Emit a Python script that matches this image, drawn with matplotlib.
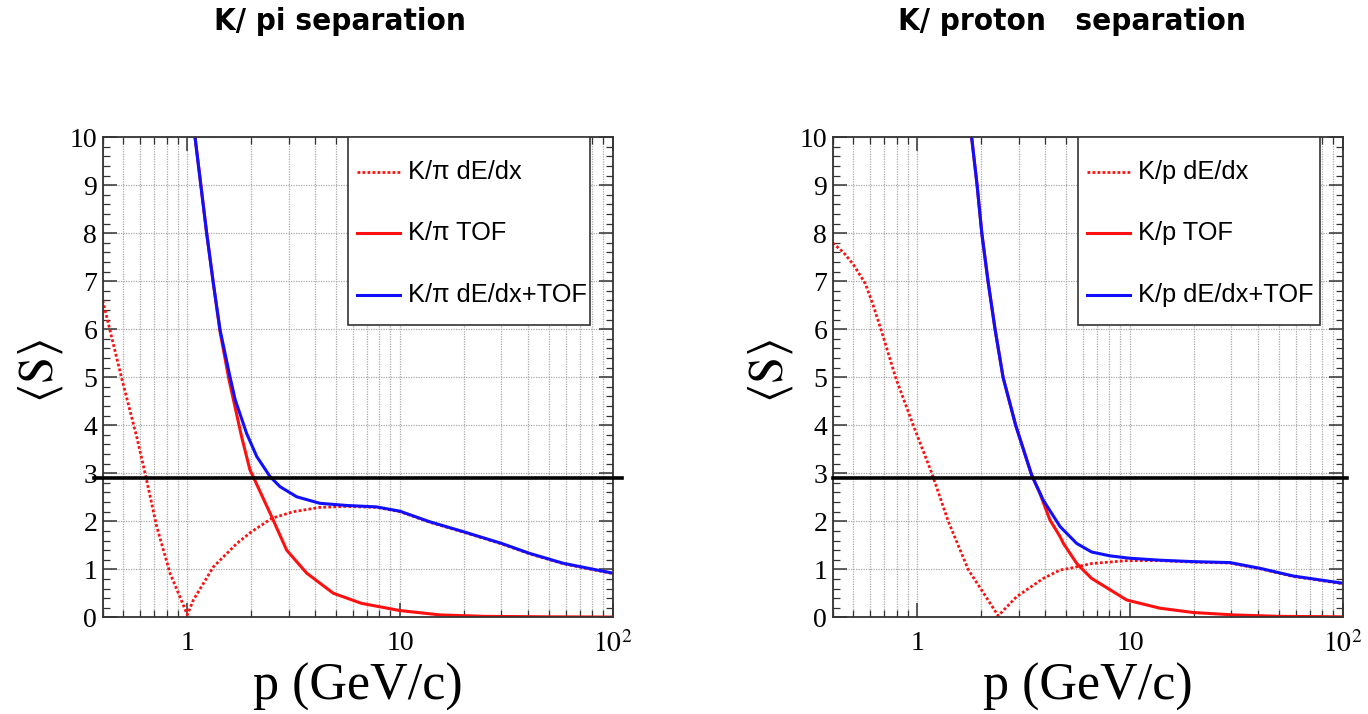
import matplotlib
matplotlib.use('Agg')
import matplotlib.pyplot as plt
import matplotlib.transforms as mtransforms
from matplotlib.patches import Rectangle
from matplotlib.ticker import LogLocator, MultipleLocator, NullFormatter

plt.rcParams['font.family'] = ['Liberation Serif', 'DejaVu Serif']
plt.rcParams['mathtext.fontset'] = 'stix'

# ---- K/pi separation ----
kpi_dedx_p = [0.40, 0.49, 0.578, 0.633, 0.718, 0.829, 0.92, 1.0, 1.067, 1.18, 1.325, 1.71,
              2.0, 2.49, 3.15, 4.2, 5.6, 7.8, 10, 13.8, 20, 30, 40.8, 58.6, 100]
kpi_dedx_s = [6.6, 5.0, 3.76, 3.0, 1.89, 0.92, 0.44, 0.05, 0.36, 0.68, 1.05, 1.54,
              1.78, 2.06, 2.2, 2.29, 2.31, 2.29, 2.20, 1.98, 1.77, 1.53, 1.32, 1.115, 0.91]

kpi_tof_p = [1.05, 1.087, 1.233, 1.325, 1.425, 1.57, 1.80, 1.97, 2.04, 2.49, 2.93, 3.64,
             4.86, 6.6, 10, 15.4, 25, 50, 100]
kpi_tof_s = [10.55, 10.0, 8.0, 6.96, 5.95, 4.95, 3.76, 3.07, 2.93, 2.1, 1.40, 0.92,
             0.5, 0.29, 0.14, 0.05, 0.02, 0.01, 0.005]

kpi_comb_p = [1.05, 1.087, 1.233, 1.325, 1.425, 1.587, 1.68, 1.90, 2.12, 2.45, 2.73, 3.27,
              4.2, 5.6, 7.75, 10, 13.8, 20, 30, 40.8, 58.6, 100]
kpi_comb_s = [10.55, 10.0, 8.0, 6.96, 5.99, 5.01, 4.53, 3.83, 3.35, 2.93, 2.72, 2.51,
              2.375, 2.33, 2.30, 2.21, 1.99, 1.78, 1.54, 1.33, 1.125, 0.92]

# ---- K/proton separation ----
kp_dedx_p = [0.40, 0.45, 0.50, 0.57, 0.62, 0.68, 0.79, 0.957, 1.17, 1.40, 1.74, 2.1, 2.40,
             2.93, 3.91, 4.69, 5.22, 6.6, 9.65, 13.8, 19.8, 29.5, 40.9, 58.6, 100]
kp_dedx_s = [7.8, 7.6, 7.35, 6.95, 6.5, 5.95, 5.0, 4.0, 3.0, 1.99, 0.985, 0.43, 0.03,
             0.43, 0.81, 0.985, 1.02, 1.12, 1.18, 1.18, 1.15, 1.13, 1.01, 0.85, 0.70]

kp_tof_p = [1.75, 1.80, 1.91, 2.01, 2.15, 2.32, 2.53, 2.90, 3.45, 3.77, 4.2, 4.69, 4.86,
            5.61, 5.82, 6.6, 9.65, 13.8, 19.8, 30.6, 50, 100]
kp_tof_s = [10.48, 10.0, 9.0, 8.0, 7.0, 6.0, 5.0, 4.0, 2.96, 2.58, 2.03, 1.68, 1.54,
            1.125, 1.05, 0.81, 0.36, 0.19, 0.10, 0.05, 0.02, 0.01]

kp_comb_p = [1.75, 1.80, 1.91, 2.01, 2.15, 2.32, 2.53, 2.90, 3.45, 3.91, 4.69, 5.61,
             6.6, 8.05, 10, 13.8, 19.8, 29.5, 40.9, 58.6, 100]
kp_comb_s = [10.48, 10.0, 9.0, 8.0, 7.0, 6.0, 5.0, 4.0, 2.96, 2.44, 1.89, 1.54,
             1.36, 1.28, 1.23, 1.19, 1.16, 1.14, 1.02, 0.86, 0.71]

threshold = 2.9

W, H = 1368, 714
fig = plt.figure(figsize=(W / 100, H / 100), dpi=100)

RED = '#ff1010'
BLUE = '#1010ff'
DOTTED = (0, (1, 0.8))


def draw_legend(ax, labels, styles):
    # ROOT-like legend box pinned to the top of the frame
    ax.add_patch(Rectangle((0.48, 0.609), 0.476, 0.391, transform=ax.transAxes,
                           facecolor='white', edgecolor='#333333', lw=1.2, zorder=7))
    for row, (lab, (col, ls, lw)) in enumerate(zip(labels, styles)):
        y = 0.928 - row * 0.128
        ax.plot([0.498, 0.583], [y, y], transform=ax.transAxes, color=col, ls=ls,
                lw=lw, zorder=8, clip_on=False)
        ax.text(0.598, y, lab, transform=ax.transAxes, ha='left', va='center',
                family='Liberation Sans', fontsize=18.3, zorder=8)


def draw_panel(left_px, title, title_px, sp, dedx, tof, comb, line_span):
    ax = fig.add_axes([left_px / W, (H - 617.3) / H, 510 / W, 480 / H])
    ax.set_xscale('log')
    ax.set_xlim(0.4, 100)
    ax.set_ylim(0, 10)

    ax.plot(dedx[0], dedx[1], color=RED, lw=2.0, ls=DOTTED)
    ax.plot(tof[0], tof[1], color=RED, lw=2.2)
    ax.plot(comb[0], comb[1], color=BLUE, lw=2.2)

    trans = mtransforms.blended_transform_factory(ax.transAxes, ax.transData)
    ax.plot(line_span, [threshold, threshold], color='black', lw=2.6,
            transform=trans, clip_on=False, zorder=9)

    ax.set_xticks([1, 10, 100], ['1', '10', r'$10^{2}$'])
    ax.xaxis.set_minor_locator(LogLocator(base=10, subs=range(2, 10)))
    ax.xaxis.set_minor_formatter(NullFormatter())
    ax.yaxis.set_major_locator(MultipleLocator(1))
    ax.yaxis.set_minor_locator(MultipleLocator(0.2))

    ax.tick_params(which='both', direction='in', top=True, right=True,
                   colors='#333333', labelcolor='black', labelsize=20)
    ax.tick_params(which='major', length=10, width=1.1)
    ax.tick_params(which='minor', length=5, width=0.9)
    ax.tick_params(axis='x', pad=10)
    ax.tick_params(axis='y', pad=4)

    ax.grid(which='major', axis='both', ls=(0, (1, 1)), color='#aaaaaa', lw=0.9)
    ax.grid(which='minor', axis='x', ls=(0, (1, 1)), color='#aaaaaa', lw=0.9)
    for s in ax.spines.values():
        s.set_color('#333333')
        s.set_linewidth(1.3)

    draw_legend(ax,
                [f'K/{sp} dE/dx', f'K/{sp} TOF', f'K/{sp} dE/dx+TOF'],
                [(RED, DOTTED, 2.0), (RED, '-', 2.2), (BLUE, '-', 2.2)])

    ax.text(0.5, -0.145, 'p (GeV/c)', transform=ax.transAxes, ha='center',
            va='center', fontsize=37.5)
    fig.text((left_px - 62) / W, 1 - 371 / H, r'$\langle\mathrm{S}\rangle$', rotation=90,
             ha='center', va='center', fontsize=35)
    fig.text(title_px / W, 1 - 22 / H, title, ha='center', va='center',
             fontsize=22.5, fontweight='bold', family='DejaVu Sans',
             fontstretch='condensed')
    return ax


draw_panel(102.7, 'K/ pi separation', 340, 'π',
           (kpi_dedx_p, kpi_dedx_s), (kpi_tof_p, kpi_tof_s), (kpi_comb_p, kpi_comb_s),
           [-0.018, 1.018])
draw_panel(832.7, 'K/ proton   separation', 1072, 'p',
           (kp_dedx_p, kp_dedx_s), (kp_tof_p, kp_tof_s), (kp_comb_p, kp_comb_s),
           [0.0, 1.008])

fig.savefig('out.png', dpi=100)
